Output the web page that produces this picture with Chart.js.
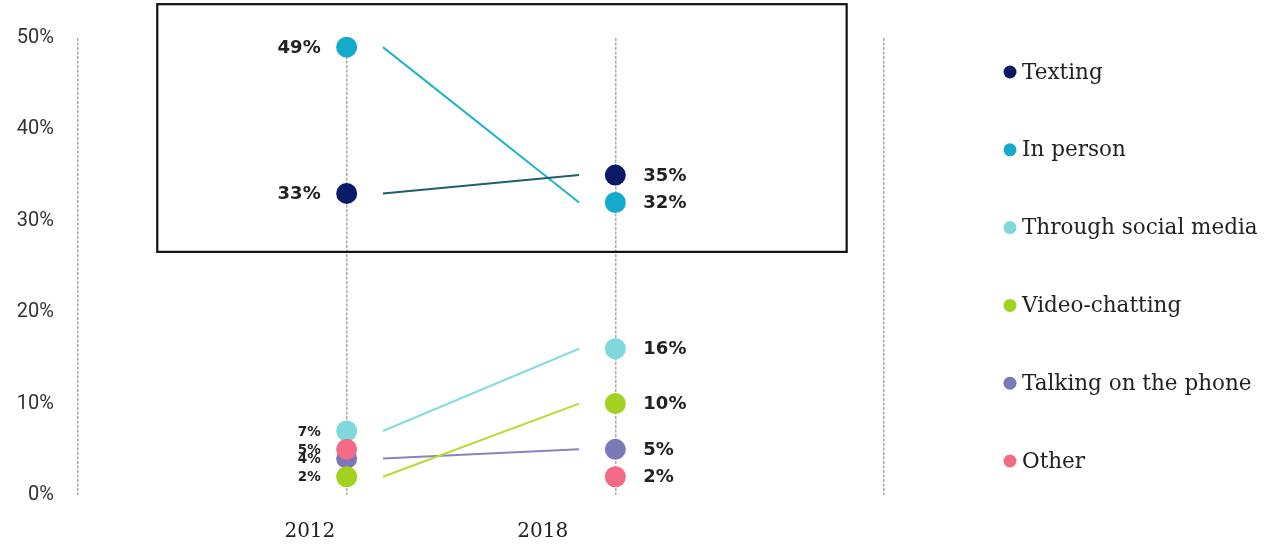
<!DOCTYPE html>
<html>
<head>
<meta charset="utf-8">
<script src="https://cdn.jsdelivr.net/npm/chart.js@4"></script>
<style>
  body { margin: 0; background: #fff; }
  #wrap { width: 1267px; height: 546px; position: relative; }
</style>
</head>
<body>
<div id="wrap"><canvas id="slope"></canvas></div>
<script>
// Años comparados y cómo se comunican los jóvenes con sus amigos
const years = ['2012', '2018'];
const seriesNames = ['Texting', 'In person', 'Through social media', 'Video-chatting', 'Talking on the phone', 'Other'];
const values2012 = [33, 49, 7, 2, 4, 5];
const values2018 = [35, 32, 16, 10, 5, 2];
const hasLine = [true, true, true, true, true, false];
const yTicks = [0, 10, 20, 30, 40, 50];

const pointColors = ['#0b1a66', '#13aacc', '#7fd9da', '#a3d11f', '#7a78b5', '#f26a86'];
const lineColors = ['#1d5f6d', '#1fb3c6', '#86dcdc', '#b9db2e', '#8584bb', '#f26a86'];
// orden de dibujo de los puntos (menor = encima)
const pointOrder = [2, 2, 5, 1, 4, 1];
// los segmentos no tocan los puntos
const lineInset = 0.135;
// recuadro que resalta Texting / In person
const boxX = [-0.705, 1.861];
const boxY = [26.6, 53.7];
// posición de los años en el eje x (desplazados a la izquierda)
const yearLabelX = [-0.137, 0.73];

const datasets = [];
seriesNames.forEach((name, i) => {
    datasets.push({
        label: name,
        type: 'scatter',
        data: [{ x: 0, y: values2012[i] }, { x: 1, y: values2018[i] }],
        backgroundColor: pointColors[i],
        borderColor: pointColors[i],
        pointRadius: 10.5,
        pointHoverRadius: 10.5,
        borderWidth: 0,
        order: pointOrder[i],
        clip: false,
    });
});
seriesNames.forEach((name, i) => {
    if (!hasLine[i]) return;
    datasets.push({
        label: name + ' line',
        type: 'line',
        data: [{ x: lineInset, y: values2012[i] }, { x: 1 - lineInset, y: values2018[i] }],
        borderColor: lineColors[i],
        borderWidth: 2,
        pointRadius: 0,
        fill: false,
        order: 10,
    });
});

// etiquetas de valor, años, recuadro y leyenda a la derecha
const decorPlugin = {
    id: 'decor',
    afterDatasetsDraw(chart) {
        const ctx = chart.ctx;
        const xs = chart.scales.x, ys = chart.scales.y;
        ctx.save();

        // recuadro
        ctx.strokeStyle = '#111';
        ctx.lineWidth = 2.2;
        const bl = xs.getPixelForValue(boxX[0]), br = xs.getPixelForValue(boxX[1]);
        const bt = ys.getPixelForValue(boxY[1]), bb = ys.getPixelForValue(boxY[0]);
        ctx.strokeRect(bl, bt, br - bl, bb - bt);

        // valores
        ctx.fillStyle = '#222';
        ctx.textBaseline = 'middle';
        const x0 = xs.getPixelForValue(0), x1 = xs.getPixelForValue(1);
        values2012.forEach(v => {
            const small = v < 10;
            ctx.font = (small ? 'bold 13.5px' : 'bold 18px') + ' "DejaVu Sans", sans-serif';
            ctx.textAlign = 'right';
            ctx.fillText(v + '%', x0 - 26, ys.getPixelForValue(v) + 1);
        });
        values2018.forEach(v => {
            ctx.font = 'bold 18px "DejaVu Sans", sans-serif';
            ctx.textAlign = 'left';
            ctx.fillText(v + '%', x1 + 28, ys.getPixelForValue(v) + 1);
        });

        // años
        ctx.font = '20px "DejaVu Serif", serif';
        ctx.textAlign = 'center';
        years.forEach((yr, i) => {
            ctx.fillText(yr, xs.getPixelForValue(yearLabelX[i]), 532);
        });

        // leyenda
        ctx.font = '21.5px "DejaVu Serif", serif';
        ctx.textAlign = 'left';
        seriesNames.forEach((name, i) => {
            const y = 72 + i * 77.8;
            ctx.fillStyle = pointColors[i];
            ctx.beginPath();
            ctx.arc(1010, y, 6.5, 0, Math.PI * 2);
            ctx.fill();
            ctx.fillStyle = '#222';
            ctx.fillText(name, 1022, y + 1);
        });
        ctx.restore();
    }
};

const slopeCtx = document.getElementById('slope');
window.mySlope = new Chart(slopeCtx, {
    data: { datasets: datasets },
    options: {
        responsive: true,
        maintainAspectRatio: false,
        animation: false,
        layout: { padding: { top: 38, right: 383, left: 0, bottom: 0 } },
        plugins: {
            legend: { display: false },
            tooltip: { enabled: false },
        },
        scales: {
            x: {
                type: 'linear',
                min: -1,
                max: 2,
                afterFit: scale => { scale.height = 51; },
                afterBuildTicks: scale => {
                    scale.ticks = [-1, 0, 1, 2].map(v => ({ value: v }));
                },
                ticks: { display: false },
                grid: {
                    color: '#a8a8a8',
                    lineWidth: 1.5,
                    drawTicks: false,
                },
                border: { display: false, dash: [3, 1.5] },
            },
            y: {
                min: 0,
                max: 50,
                afterFit: scale => { scale.width = 78; },
                afterBuildTicks: scale => {
                    scale.ticks = yTicks.map(v => ({ value: v }));
                },
                ticks: {
                    padding: 16,
                    color: '#333',
                    font: { family: 'Roboto, "Noto Sans", sans-serif', size: 20 },
                    callback: v => v + '%',
                },
                grid: { display: false },
                border: { display: false },
            },
        },
    },
    plugins: [decorPlugin],
});
</script>
</body>
</html>
